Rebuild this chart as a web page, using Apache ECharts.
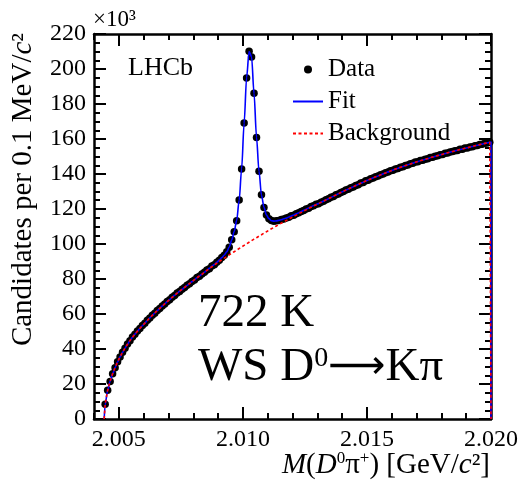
<!DOCTYPE html>
<html><head><meta charset="utf-8">
<script src="https://cdn.jsdelivr.net/npm/echarts@6/dist/echarts.min.js"></script>
<style>html,body{margin:0;padding:0;background:#fff}#c{width:521px;height:480px}</style>
</head><body><div id="c"></div>
<script>
// ---- data (values in units of 10^3 candidates per 0.1 MeV/c^2) ----
const binLow = 2.0044;      // GeV/c^2, lower edge of first bin
const binWidth = 0.0001;    // 0.1 MeV
const dataCounts = [
  8.4, 16.5, 21.5, 25.9, 29.3, 32.7, 35.4, 38.2, 40.4, 42.8,
  44.7, 46.8, 48.4, 50.3, 51.7, 53.4, 54.7, 56.4, 57.7, 59.3,
  60.5, 62.0, 63.1, 64.6, 65.7, 67.2, 68.2, 69.6, 70.6, 72.0,
  72.9, 74.2, 75.1, 76.4, 77.3, 78.6, 79.5, 80.8, 81.6, 82.8,
  83.8, 85.1, 85.9, 87.4, 88.2, 89.6, 90.7, 92.3, 93.6, 95.6,
  98.2, 102.4, 107.0, 113.3, 125.2, 142.8, 169.2, 194.8, 210.2, 206.8,
  186.1, 160.8, 141.6, 128.1, 120.9, 116.6, 114.4, 113.4, 113.0, 113.3,
  113.4, 114.0, 114.3, 114.9, 115.3, 116.1, 116.5, 117.3, 117.8, 118.6,
  119.1, 120.0, 120.5, 121.4, 121.9, 122.7, 123.0, 123.9, 124.4, 125.3,
  125.8, 126.7, 127.2, 128.1, 128.6, 129.5, 130.0, 130.9, 131.3, 132.2,
  132.6, 133.5, 133.9, 134.8, 135.2, 136.1, 136.5, 137.3, 137.7, 138.5,
  138.8, 139.6, 140.0, 140.7, 141.1, 141.8, 142.2, 142.9, 143.2, 143.9,
  144.2, 144.9, 145.2, 145.8, 146.1, 146.8, 147.0, 147.7, 147.9, 148.5,
  148.7, 149.4, 149.6, 150.2, 150.4, 151.0, 151.2, 151.8, 152.0, 152.6,
  152.8, 153.3, 153.5, 154.1, 154.2, 154.8, 154.9, 155.5, 155.6, 156.2,
  156.3, 156.9, 157.0, 157.6, 157.7, 158.2
];
const bgValues = [
  8.4, 16.4, 21.6, 25.8, 29.4, 32.6, 35.5, 38.1, 40.5, 42.7,
  44.8, 46.7, 48.5, 50.2, 51.8, 53.3, 54.8, 56.3, 57.8, 59.2,
  60.6, 61.9, 63.2, 64.5, 65.8, 67.1, 68.3, 69.5, 70.7, 71.9,
  73.0, 74.1, 75.2, 76.3, 77.4, 78.5, 79.6, 80.7, 81.7, 82.7,
  83.8, 84.9, 85.9, 87.0, 88.0, 89.0, 90.0, 91.0, 91.9, 92.8,
  93.8, 94.7, 95.6, 96.5, 97.4, 98.3, 99.2, 100.1, 101.0, 101.9,
  102.8, 103.6, 104.5, 105.3, 106.2, 107.0, 107.9, 108.7, 109.5, 110.3,
  111.1, 111.9, 112.7, 113.4, 114.2, 115.0, 115.8, 116.5, 117.3, 118.0,
  118.8, 119.5, 120.3, 121.0, 121.7, 122.4, 123.1, 123.8, 124.5, 125.2,
  125.9, 126.6, 127.3, 128.0, 128.7, 129.4, 130.1, 130.8, 131.4, 132.1,
  132.7, 133.4, 134.0, 134.7, 135.3, 136.0, 136.6, 137.2, 137.8, 138.4,
  138.9, 139.5, 140.1, 140.6, 141.2, 141.7, 142.3, 142.8, 143.3, 143.8,
  144.3, 144.8, 145.3, 145.7, 146.2, 146.7, 147.1, 147.6, 148.0, 148.4,
  148.8, 149.3, 149.7, 150.1, 150.5, 150.9, 151.3, 151.7, 152.1, 152.5,
  152.9, 153.2, 153.6, 154.0, 154.3, 154.7, 155.0, 155.4, 155.7, 156.1,
  156.4, 156.8, 157.1, 157.5, 157.8, 158.1
];
const fitValues = [
  8.4, 16.4, 21.6, 25.8, 29.4, 32.6, 35.5, 38.1, 40.5, 42.7,
  44.8, 46.7, 48.5, 50.2, 51.8, 53.3, 54.8, 56.3, 57.8, 59.2,
  60.6, 61.9, 63.2, 64.5, 65.8, 67.1, 68.3, 69.5, 70.7, 71.9,
  73.0, 74.1, 75.2, 76.3, 77.4, 78.5, 79.6, 80.7, 81.7, 82.7,
  83.9, 85.0, 86.1, 87.3, 88.3, 89.5, 90.8, 92.2, 93.7, 95.5,
  98.3, 102.2, 107.1, 113.5, 125.0, 143.0, 169.0, 195.0, 210.0, 207.0,
  186.0, 161.0, 141.5, 128.0, 121.0, 116.5, 114.5, 113.3, 113.1, 113.2,
  113.5, 113.9, 114.4, 114.8, 115.4, 116.0, 116.6, 117.2, 117.9, 118.5,
  119.2, 119.9, 120.6, 121.3, 122.0, 122.6, 123.1, 123.8, 124.5, 125.2,
  125.9, 126.6, 127.3, 128.0, 128.7, 129.4, 130.1, 130.8, 131.4, 132.1,
  132.7, 133.4, 134.0, 134.7, 135.3, 136.0, 136.6, 137.2, 137.8, 138.4,
  138.9, 139.5, 140.1, 140.6, 141.2, 141.7, 142.3, 142.8, 143.3, 143.8,
  144.3, 144.8, 145.3, 145.7, 146.2, 146.7, 147.1, 147.6, 148.0, 148.4,
  148.8, 149.3, 149.7, 150.1, 150.5, 150.9, 151.3, 151.7, 152.1, 152.5,
  152.9, 153.2, 153.6, 154.0, 154.3, 154.7, 155.0, 155.4, 155.7, 156.1,
  156.4, 156.8, 157.1, 157.5, 157.8, 158.1
];
const curveStart = 2.00441;   // kinematic threshold, curves start at 0 here
const curveEnd = 2.0200;      // curves end and drop to 0 here
const curveEndValue = 158.3;
const xRange = [2.004, 2.020];
const xLabelValues = [2.005, 2.010, 2.015, 2.020];
const yRange = [0, 220];
const yStep = 20;

// ---- build ----
const FONT = 'Liberation Serif';
const binCenters = dataCounts.map((_, i) => +(binLow + (i + 0.5) * binWidth).toFixed(5));
const dataPts = binCenters.map((x, i) => [x, dataCounts[i]]);
const curve = vals => [[curveStart, 0]].concat(binCenters.map((x, i) => [x, vals[i]]), [[curveEnd, curveEndValue], [curveEnd, 0]]);

const tickStyle = {color: '#000', width: 2};
const frameLine = {show: true, lineStyle: {color: '#000', width: 2.5}};
function xAx(pos, long, labels) {
  const a = {type: 'value', position: pos, min: xRange[0], max: xRange[1], splitLine: {show: false},
    axisLine: long ? {show: false} : frameLine,
    axisTick: long ? {show: true, inside: true, length: 12, customValues: xLabelValues, lineStyle: tickStyle}
                   : {show: true, inside: true, length: 6, lineStyle: tickStyle},
    axisLabel: labels ? {show: true, customValues: xLabelValues, formatter: v => v.toFixed(3),
      fontFamily: FONT, fontSize: 24, color: '#000', margin: 9} : {show: false}};
  if (!long) a.interval = 0.001;
  return a;
}
function yAx(pos, labels) {
  return {type: 'value', position: pos, min: yRange[0], max: yRange[1], interval: yStep,
    splitLine: {show: false}, axisLine: frameLine,
    axisTick: {show: true, inside: true, length: 12, lineStyle: tickStyle},
    minorTick: {show: true, splitNumber: 4, length: 6, lineStyle: tickStyle},
    minorSplitLine: {show: false},
    axisLabel: labels ? {show: true, fontFamily: FONT, fontSize: 24, color: '#000', margin: 8} : {show: false}};
}

const chart = echarts.init(document.getElementById('c'), null, {renderer: 'canvas'});
chart.setOption({
  animation: false,
  backgroundColor: '#fff',
  grid: {left: 94, right: 30, top: 34, bottom: 61},
  xAxis: [xAx('bottom', false, true), xAx('bottom', true, false), xAx('top', false, false), xAx('top', true, false)],
  yAxis: [yAx('left', true), yAx('right', false)],
  legend: {
    orient: 'vertical', left: 287, top: 52, itemWidth: 30, itemHeight: 8, itemGap: 7,
    textStyle: {fontFamily: FONT, fontSize: 25, color: '#000'},
    data: [
      {name: 'Data', icon: 'circle', itemStyle: {color: '#000', opacity: 1}},
      {name: 'Fit', itemStyle: {opacity: 0}},
      {name: 'Background', itemStyle: {opacity: 0}}
    ]
  },
  series: [
    {name: 'Data', type: 'scatter', data: dataPts, symbolSize: 7.5, itemStyle: {color: '#000', opacity: 1}, z: 2},
    {name: 'Fit', type: 'line', data: curve(fitValues), symbol: 'none', showSymbol: false,
      smooth: 0.3, smoothMonotone: 'x', lineStyle: {color: '#0000ff', width: 1.6}, itemStyle: {color: '#0000ff'}, z: 3},
    {name: 'Background', type: 'line', data: curve(bgValues), symbol: 'none', showSymbol: false,
      lineStyle: {color: '#ff0000', width: 1.6, type: [3, 2.5]}, itemStyle: {color: '#ff0000'}, z: 4}
  ],
  graphic: [
    {type: 'text', x: 93, y: 20, style: {text: '×10³', font: '23px "Liberation Serif"', fill: '#000', verticalAlign: 'middle'}},
    {type: 'text', x: 128, y: 68, style: {text: 'LHCb', font: '26px "Liberation Serif"', fill: '#000', verticalAlign: 'middle'}},
    {type: 'text', x: 198, y: 314, style: {text: '722 K', font: '47px "Liberation Serif"', fill: '#000', verticalAlign: 'middle'}},
    {type: 'text', x: 198, y: 368, style: {text: 'WS D{s|0}{a|⟶}Kπ', font: '47px "Liberation Serif"', fill: '#000', verticalAlign: 'middle',
      rich: {s: {fontSize: 28, fontFamily: FONT, verticalAlign: 'top'}, a: {fontSize: 40, fontFamily: 'DejaVu Sans'}}}},
    {type: 'text', x: 23, y: 33, rotation: Math.PI / 2, style: {text: 'Candidates per 0.1 MeV/{i|c}²', font: '29px "Liberation Serif"', fill: '#000',
      align: 'right', verticalAlign: 'middle', rich: {i: {fontStyle: 'italic', fontSize: 29, fontFamily: FONT}}}},
    {type: 'text', x: 490, y: 465, style: {text: '{i|M}({i|D}{s|0}π{s|+}) [GeV/{i|c}²]', font: '29px "Liberation Serif"', fill: '#000',
      align: 'right', verticalAlign: 'middle', rich: {i: {fontStyle: 'italic', fontSize: 29, fontFamily: FONT}, s: {fontSize: 17, fontFamily: FONT, verticalAlign: 'top'}}}}
  ]
});
</script></body></html>
